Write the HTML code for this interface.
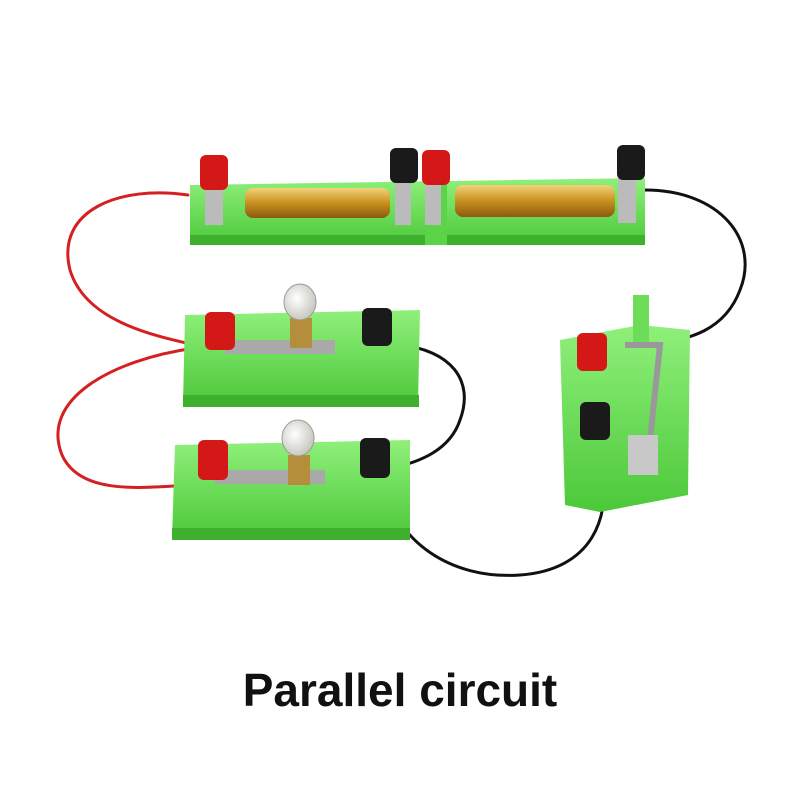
<!DOCTYPE html>
<html><head><meta charset="utf-8"><style>
html,body{margin:0;padding:0;background:#fff;width:800px;height:800px;overflow:hidden}
.cap{position:absolute;left:0;top:663px;width:800px;text-align:center;font:bold 46px "Liberation Sans",sans-serif;color:#111}
</style></head><body>
<svg width="800" height="800" viewBox="0 0 800 800" style="position:absolute;left:0;top:0">
<defs>
<linearGradient id="bat" x1="0" y1="0" x2="0" y2="1"><stop offset="0" stop-color="#f3d27a"/><stop offset="0.5" stop-color="#c8901e"/><stop offset="1" stop-color="#8a5a10"/></linearGradient>
<linearGradient id="gr" x1="0" y1="0" x2="0" y2="1"><stop offset="0" stop-color="#8ff07a"/><stop offset="1" stop-color="#4cc83a"/></linearGradient>
<radialGradient id="bulb" cx="0.4" cy="0.4" r="0.6"><stop offset="0" stop-color="#fff"/><stop offset="1" stop-color="#c9c9c0"/></radialGradient>
</defs>
<g fill="none" stroke-width="3" stroke-linecap="round">
<path d="M188 195 C120 185 55 210 70 270 C85 320 150 335 195 345" stroke="#d42020"/>
<path d="M195 348 C110 360 40 400 62 455 C80 495 140 488 190 485" stroke="#d42020"/>
<path d="M645 190 C720 190 760 240 740 290 C725 330 690 340 650 345" stroke="#111"/>
<path d="M400 345 C450 350 475 380 460 420 C450 450 420 462 392 468" stroke="#111"/>
<path d="M385 485 C395 540 450 580 520 575 C590 570 615 520 600 455" stroke="#111"/>
</g>
<path d="M190 185 L645 178 L645 245 L190 245 Z" fill="url(#gr)"/>
<path d="M190 235 L645 235 L645 245 L190 245 Z" fill="#3fb02e"/>
<rect x="425" y="180" width="22" height="65" fill="#5cd448"/>
<rect x="245" y="188" width="145" height="30" rx="8" fill="url(#bat)"/>
<rect x="455" y="185" width="160" height="32" rx="8" fill="url(#bat)"/>
<rect x="205" y="180" width="18" height="45" fill="#bbb"/>
<rect x="395" y="180" width="16" height="45" fill="#bbb"/>
<rect x="425" y="180" width="16" height="45" fill="#bbb"/>
<rect x="618" y="178" width="18" height="45" fill="#bbb"/>
<path d="M185 315 L420 310 L418 405 L183 405 Z" fill="url(#gr)"/>
<rect x="183" y="395" width="236" height="12" fill="#3fb02e"/>
<rect x="225" y="340" width="110" height="14" fill="#a9a9a9"/>
<rect x="290" y="318" width="22" height="30" fill="#b58e3c"/>
<ellipse cx="300" cy="302" rx="16" ry="18" fill="url(#bulb)" stroke="#999"/>
<path d="M175 445 L410 440 L410 535 L172 538 Z" fill="url(#gr)"/>
<rect x="172" y="528" width="238" height="12" fill="#3fb02e"/>
<rect x="215" y="470" width="110" height="14" fill="#a9a9a9"/>
<rect x="288" y="455" width="22" height="30" fill="#b58e3c"/>
<ellipse cx="298" cy="438" rx="16" ry="18" fill="url(#bulb)" stroke="#999"/>
<path d="M560 340 L640 325 L690 330 L688 495 L600 512 L565 505 Z" fill="url(#gr)"/>
<rect x="633" y="295" width="16" height="50" fill="#6ddc58"/>
<path d="M625 345 L660 345 L650 440" stroke="#999" stroke-width="6" fill="none"/>
<rect x="628" y="435" width="30" height="40" fill="#c8c8c8"/>
<g>
<rect x="200" y="155" width="28" height="35" rx="6" fill="#d41818"/>
<rect x="422" y="150" width="28" height="35" rx="6" fill="#d41818"/>
<rect x="390" y="148" width="28" height="35" rx="6" fill="#1a1a1a"/>
<rect x="617" y="145" width="28" height="35" rx="6" fill="#1a1a1a"/>
<rect x="205" y="312" width="30" height="38" rx="6" fill="#d41818"/>
<rect x="362" y="308" width="30" height="38" rx="6" fill="#1a1a1a"/>
<rect x="198" y="440" width="30" height="40" rx="6" fill="#d41818"/>
<rect x="360" y="438" width="30" height="40" rx="6" fill="#1a1a1a"/>
<rect x="577" y="333" width="30" height="38" rx="6" fill="#d41818"/>
<rect x="580" y="402" width="30" height="38" rx="6" fill="#1a1a1a"/>
</g>
</svg>
<div class="cap">Parallel circuit</div>
</body></html>
